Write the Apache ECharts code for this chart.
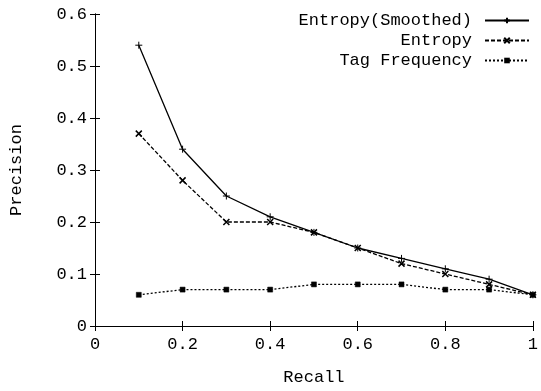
<!DOCTYPE html>
<html>
<head>
<meta charset="utf-8">
<script src="https://cdn.jsdelivr.net/npm/echarts@6/dist/echarts.min.js"></script>
<style>
  html, body { margin: 0; padding: 0; background: #fff; }
  #chart { width: 541px; height: 391px; }
</style>
</head>
<body>
<div id="chart"></div>
<script>
const recall = [0.1, 0.2, 0.3, 0.4, 0.5, 0.6, 0.7, 0.8, 0.9, 1.0];
const entropySmoothed = [0.54, 0.34, 0.25, 0.21, 0.18, 0.15, 0.13, 0.11, 0.09, 0.06];
const entropy = [0.37, 0.28, 0.20, 0.20, 0.18, 0.15, 0.12, 0.10, 0.08, 0.06];
const tagFrequency = [0.06, 0.07, 0.07, 0.07, 0.08, 0.08, 0.08, 0.07, 0.07, 0.06];

const font = "'Liberation Mono', 'DejaVu Sans Mono', monospace";
const ink = "#000";
const fs = 17;

const plusPath = "path://M0,5L10,5M5,0L5,10";
const crossPath = "path://M0,0L10,10M10,0L0,10";
const boxPath = "path://M0,0L10,0L10,10L0,10Z";

const pairs = (ys) => recall.map((x, i) => [x, ys[i]]);

const chart = echarts.init(document.getElementById("chart"));

const baseX = {
  type: "value",
  min: 0,
  max: 1,
  interval: 0.2,
  axisLine: { show: true, lineStyle: { color: ink, width: 1 } },
  axisTick: { show: true, inside: true, length: 5, lineStyle: { color: ink } },
  splitLine: { show: false },
};
const baseY = {
  type: "value",
  min: 0,
  max: 0.6,
  interval: 0.1,
  axisLine: { show: true, lineStyle: { color: ink, width: 1 } },
  axisTick: { show: true, inside: true, length: 5, lineStyle: { color: ink } },
  splitLine: { show: false },
};

chart.setOption({
  animation: false,
  backgroundColor: "#fff",
  grid: { left: 92, right: 8, top: 14, bottom: 61 },
  legend: {
    top: 7,
    right: 6,
    orient: "vertical",
    align: "right",
    itemWidth: 44,
    itemHeight: 7,
    itemGap: 3,
    textStyle: { fontFamily: font, fontSize: fs, color: ink, padding: [0, 8, 0, 0] },
    data: [
      { name: "Entropy(Smoothed)" },
      { name: "Entropy" },
      { name: "Tag Frequency", itemStyle: { borderWidth: 0 } },
    ],
  },
  xAxis: [
    {
      ...baseX,
      position: "bottom",
      name: "Recall",
      nameLocation: "middle",
      nameGap: 43,
      nameTextStyle: { fontFamily: font, fontSize: fs, color: ink },
      axisLabel: { margin: 10, fontFamily: font, fontSize: fs, color: ink },
    },
    { ...baseX, position: "top", axisLabel: { show: false } },
  ],
  yAxis: [
    {
      ...baseY,
      position: "left",
      name: "Precision",
      nameLocation: "middle",
      nameGap: 70,
      nameRotate: 90,
      nameTextStyle: { fontFamily: font, fontSize: fs, color: ink },
      axisLabel: { margin: 8, fontFamily: font, fontSize: fs, color: ink },
    },
    { ...baseY, position: "right", axisLabel: { show: false } },
  ],
  series: [
    {
      name: "Entropy(Smoothed)",
      type: "line",
      data: pairs(entropySmoothed),
      symbol: plusPath,
      symbolSize: 7,
      itemStyle: { color: ink, borderColor: ink, borderWidth: 1 },
      lineStyle: { color: ink, width: 1.3, type: "solid" },
      z: 3,
    },
    {
      name: "Entropy",
      type: "line",
      data: pairs(entropy),
      symbol: crossPath,
      symbolSize: 6,
      itemStyle: { color: ink, borderColor: ink, borderWidth: 1.5 },
      lineStyle: { color: ink, width: 1.3, type: [4, 2] },
      z: 2,
    },
    {
      name: "Tag Frequency",
      type: "line",
      data: pairs(tagFrequency),
      symbol: boxPath,
      symbolSize: 5,
      itemStyle: { color: ink, borderColor: ink, borderWidth: 0.5 },
      lineStyle: { color: ink, width: 1.3, type: [2, 2] },
      z: 1,
    },
  ],
});
</script>
</body>
</html>
